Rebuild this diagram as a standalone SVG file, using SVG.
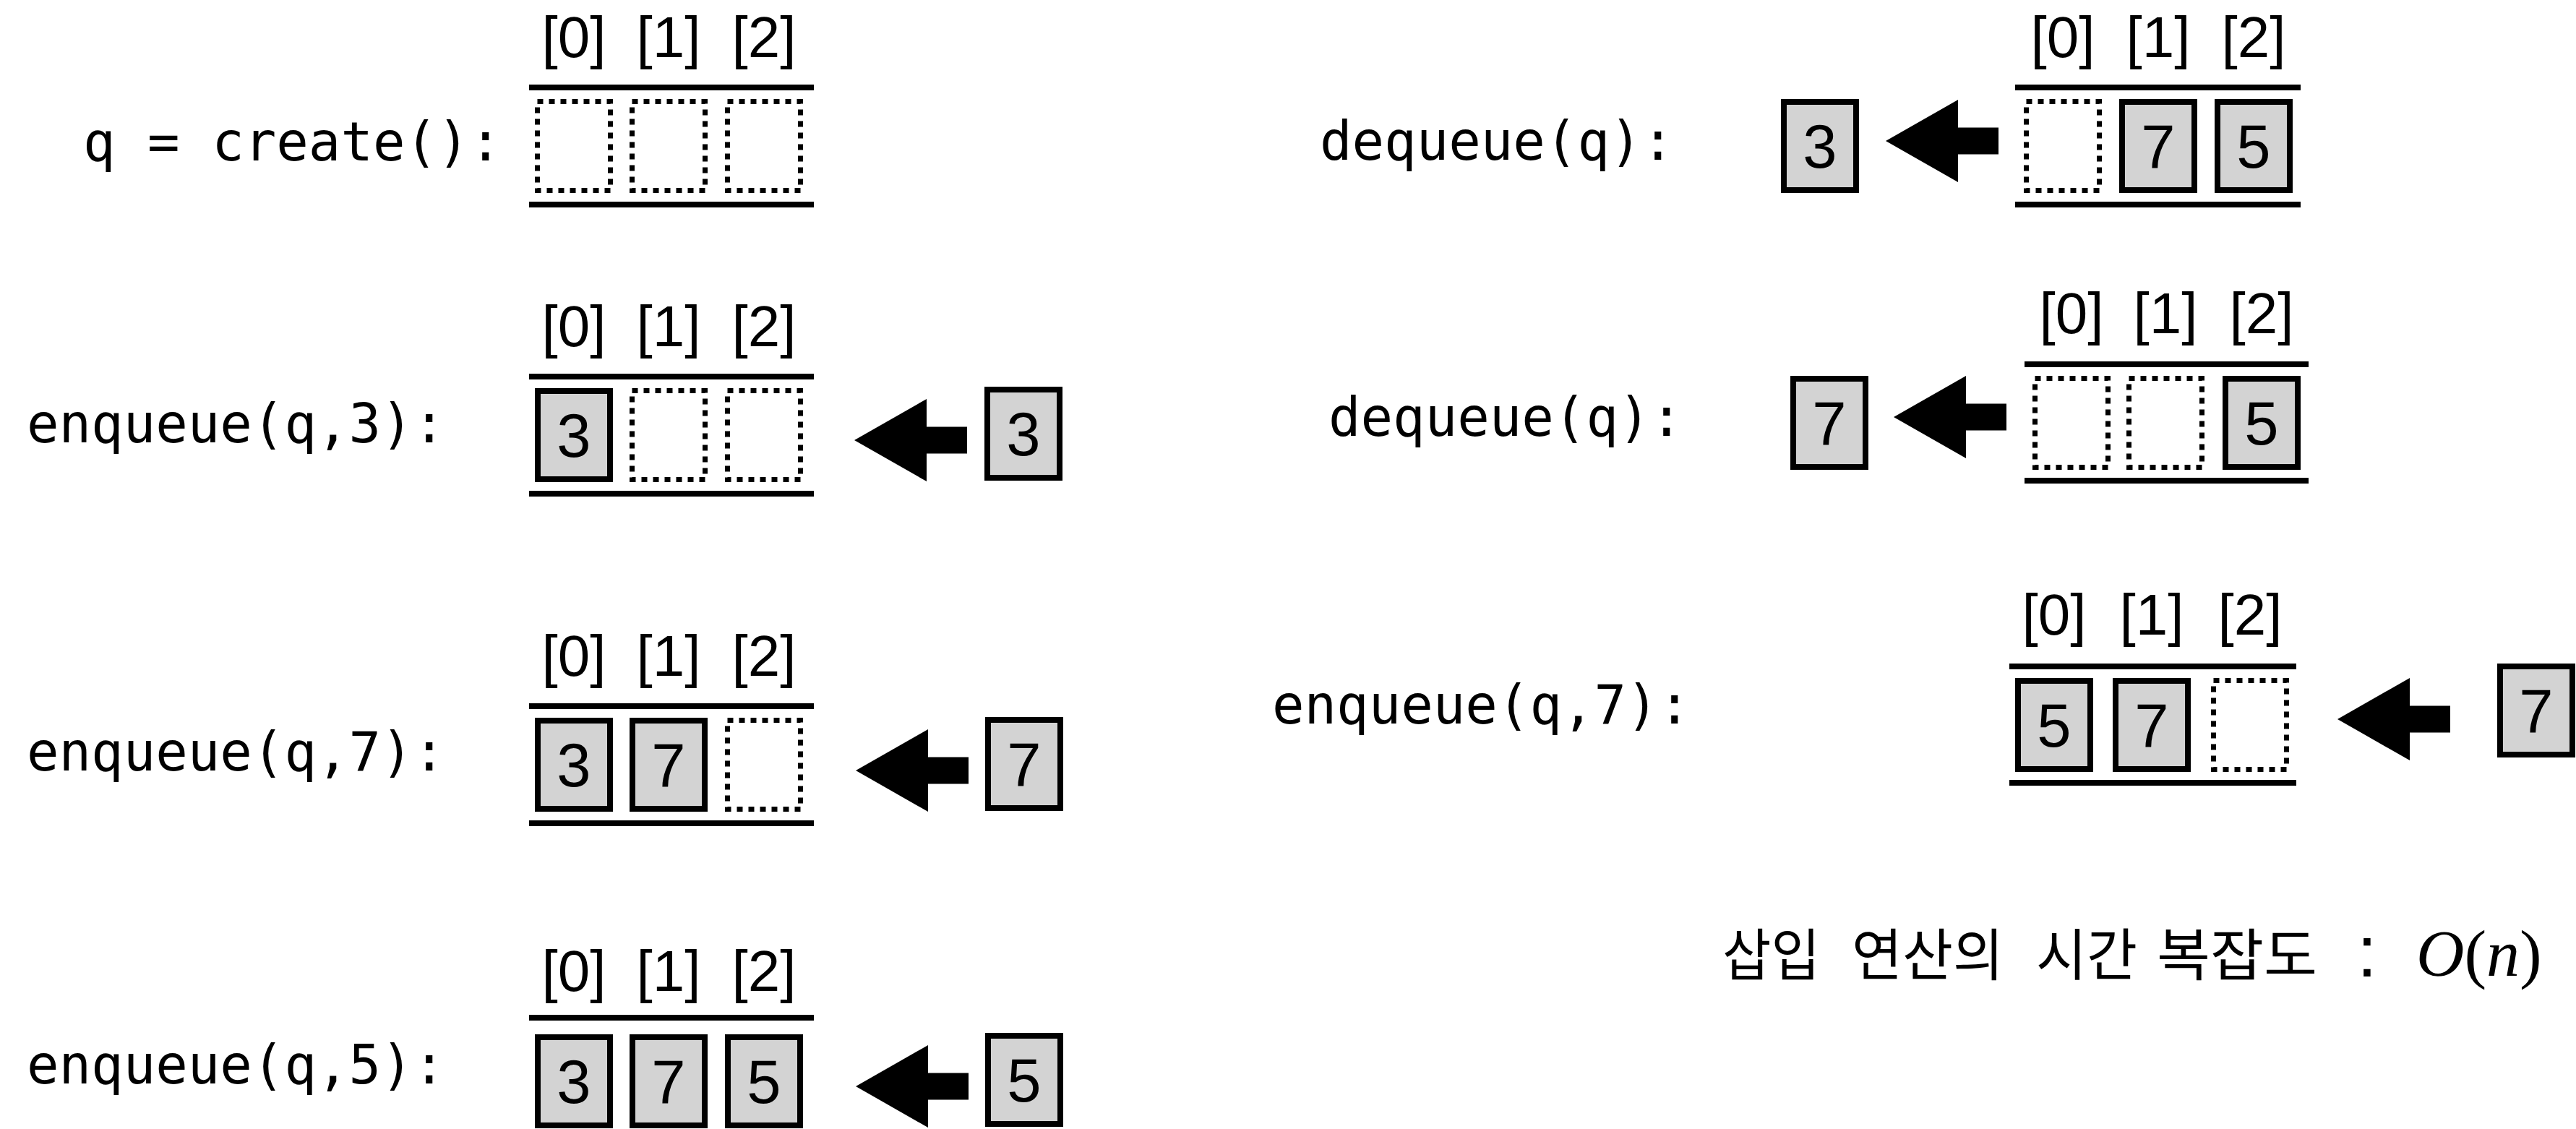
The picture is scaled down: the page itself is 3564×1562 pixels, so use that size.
<svg xmlns="http://www.w3.org/2000/svg" xmlns:xlink="http://www.w3.org/1999/xlink" width="3564" height="1562" viewBox="0 0 3564 1562">
<style>
.bar{stroke:#000;stroke-width:8;fill:none}
.cell{fill:#d3d3d3;stroke:#000;stroke-width:8}
.empty{fill:none;stroke:#000;stroke-width:7;stroke-dasharray:8 8}
.num{font-family:'Liberation Sans',Arial,sans-serif;font-size:85px;text-anchor:middle;fill:#000}
.idx{font-family:'Liberation Sans',Arial,sans-serif;font-size:80px;text-anchor:middle;fill:#000}
.op{font-family:'DejaVu Sans Mono','Liberation Mono',monospace;font-size:74px;fill:#000}
.ko{font-family:'Noto Sans CJK KR','Noto Sans',sans-serif;font-size:78px;fill:#000}
.colon{font-family:'Liberation Sans',Arial,sans-serif;font-size:100px;text-anchor:middle;fill:#000}
.math{font-family:'Liberation Serif','Times New Roman',serif;font-size:92px;fill:#000}
</style>
<defs>
<path id="arrow" d="M0,0 L100,-57 L100,-18.5 L156,-18.5 L156,18.5 L100,18.5 L100,57 Z" fill="#000"/>
</defs>
<rect width="3564" height="1562" fill="#fff"/>

<g id="step-create">
<text class="op" x="115" y="222">q = create():</text>
<text class="idx" x="794" y="79">[0]</text><text class="idx" x="925" y="79">[1]</text><text class="idx" x="1057" y="79">[2]</text>
<line class="bar" x1="732" y1="121" x2="1126" y2="121"/>
<line class="bar" x1="732" y1="283" x2="1126" y2="283"/>
<rect class="empty" x="743.5" y="140.5" width="101" height="123"/>
<rect class="empty" x="874.5" y="140.5" width="101" height="123"/>
<rect class="empty" x="1006.5" y="140.5" width="101" height="123"/>
</g>

<g id="step-enqueue3">
<text class="op" x="37" y="612">enqueue(q,3):</text>
<text class="idx" x="794" y="479">[0]</text><text class="idx" x="925" y="479">[1]</text><text class="idx" x="1057" y="479">[2]</text>
<line class="bar" x1="732" y1="521" x2="1126" y2="521"/>
<line class="bar" x1="732" y1="683" x2="1126" y2="683"/>
<rect class="cell" x="744" y="541" width="100" height="122"/><text class="num" x="794" y="632">3</text>
<rect class="empty" x="874.5" y="540.5" width="101" height="123"/>
<rect class="empty" x="1006.5" y="540.5" width="101" height="123"/>
<rect class="cell" x="1366" y="539" width="100" height="122"/><text class="num" x="1416" y="630">3</text>
</g>

<g id="step-enqueue7">
<text class="op" x="37" y="1066">enqueue(q,7):</text>
<text class="idx" x="794" y="935">[0]</text><text class="idx" x="925" y="935">[1]</text><text class="idx" x="1057" y="935">[2]</text>
<line class="bar" x1="732" y1="977" x2="1126" y2="977"/>
<line class="bar" x1="732" y1="1139" x2="1126" y2="1139"/>
<rect class="cell" x="744" y="997" width="100" height="122"/><text class="num" x="794" y="1088">3</text>
<rect class="cell" x="875" y="997" width="100" height="122"/><text class="num" x="925" y="1088">7</text>
<rect class="empty" x="1006.5" y="996.5" width="101" height="123"/>
<rect class="cell" x="1367" y="996" width="100" height="122"/><text class="num" x="1417" y="1087">7</text>
</g>

<g id="step-enqueue5">
<text class="op" x="37" y="1499">enqueue(q,5):</text>
<text class="idx" x="794" y="1371">[0]</text><text class="idx" x="925" y="1371">[1]</text><text class="idx" x="1057" y="1371">[2]</text>
<line class="bar" x1="732" y1="1408" x2="1126" y2="1408"/>
<rect class="cell" x="744" y="1435" width="100" height="122"/><text class="num" x="794" y="1526">3</text>
<rect class="cell" x="875" y="1435" width="100" height="122"/><text class="num" x="925" y="1526">7</text>
<rect class="cell" x="1007" y="1435" width="100" height="122"/><text class="num" x="1057" y="1526">5</text>
<rect class="cell" x="1367" y="1433" width="100" height="122"/><text class="num" x="1417" y="1524">5</text>
</g>

<g id="step-dequeue1">
<text class="op" x="1826" y="221">dequeue(q):</text>
<text class="idx" x="2854" y="79">[0]</text><text class="idx" x="2986" y="79">[1]</text><text class="idx" x="3118" y="79">[2]</text>
<line class="bar" x1="2788" y1="121" x2="3183" y2="121"/>
<line class="bar" x1="2788" y1="283" x2="3183" y2="283"/>
<rect class="empty" x="2803.5" y="140.5" width="101" height="123"/>
<rect class="cell" x="2936" y="141" width="100" height="122"/><text class="num" x="2986" y="232">7</text>
<rect class="cell" x="3068" y="141" width="100" height="122"/><text class="num" x="3118" y="232">5</text>
<rect class="cell" x="2468" y="141" width="100" height="122"/><text class="num" x="2518" y="232">3</text>
</g>

<g id="step-dequeue2">
<text class="op" x="1838" y="603">dequeue(q):</text>
<text class="idx" x="2866" y="461">[0]</text><text class="idx" x="2996" y="461">[1]</text><text class="idx" x="3129" y="461">[2]</text>
<line class="bar" x1="2801" y1="504" x2="3194" y2="504"/>
<line class="bar" x1="2801" y1="665" x2="3194" y2="665"/>
<rect class="empty" x="2815.5" y="523.5" width="101" height="123"/>
<rect class="empty" x="2945.5" y="523.5" width="101" height="123"/>
<rect class="cell" x="3079" y="524" width="100" height="122"/><text class="num" x="3129" y="615">5</text>
<rect class="cell" x="2481" y="524" width="100" height="122"/><text class="num" x="2531" y="615">7</text>
</g>

<g id="step-enqueue7b">
<text class="op" x="1760" y="1001">enqueue(q,7):</text>
<text class="idx" x="2842" y="878">[0]</text><text class="idx" x="2977" y="878">[1]</text><text class="idx" x="3113" y="878">[2]</text>
<line class="bar" x1="2780" y1="922" x2="3177" y2="922"/>
<line class="bar" x1="2780" y1="1083" x2="3177" y2="1083"/>
<rect class="cell" x="2792" y="942" width="100" height="122"/><text class="num" x="2842" y="1033">5</text>
<rect class="cell" x="2927" y="942" width="100" height="122"/><text class="num" x="2977" y="1033">7</text>
<rect class="empty" x="3062.5" y="941.5" width="101" height="123"/>
<rect class="cell" x="3459" y="922" width="100" height="122"/><text class="num" x="3509" y="1013">7</text>
</g>

<g id="complexity">
<text class="ko" x="2383" y="1350" textLength="135" lengthAdjust="spacingAndGlyphs">삽입</text>
<text class="ko" x="2562" y="1350" textLength="210" lengthAdjust="spacingAndGlyphs">연산의</text>
<text class="ko" x="2817" y="1350" textLength="140" lengthAdjust="spacingAndGlyphs">시간</text>
<text class="ko" x="2984" y="1350" textLength="222" lengthAdjust="spacingAndGlyphs">복잡도</text>
<text class="colon" x="3275" y="1351">:</text>
<text class="math" x="3343" y="1350"><tspan font-style="italic">O</tspan>(<tspan font-style="italic">n</tspan>)</text>
</g>

<g id="connectors">
<use xlink:href="#arrow" x="1182" y="609"/>
<use xlink:href="#arrow" x="1184" y="1066"/>
<use xlink:href="#arrow" x="1184" y="1503"/>
<use xlink:href="#arrow" x="2609" y="195"/>
<use xlink:href="#arrow" x="2620" y="577"/>
<use xlink:href="#arrow" x="3234" y="995"/>
</g>
</svg>
